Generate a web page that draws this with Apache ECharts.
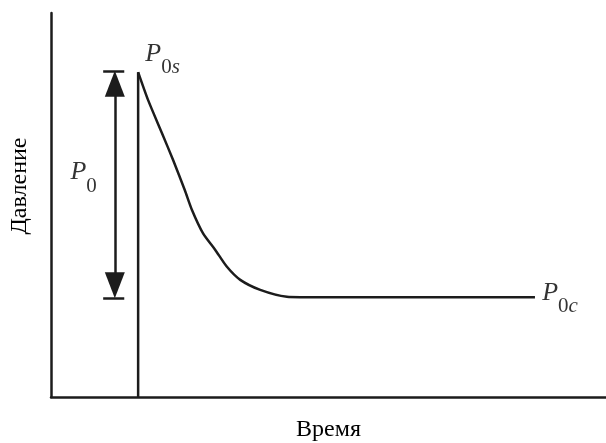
<!DOCTYPE html>
<html>
<head>
<meta charset="utf-8">
<script src="https://cdn.jsdelivr.net/npm/echarts@6/dist/echarts.min.js"></script>
<style>
  html, body { margin: 0; padding: 0; background: #fff; }
  #chart { width: 606px; height: 443px; }
</style>
</head>
<body>
<div id="chart"></div>
<script>
// время (усл. ед.) и давление (усл. ед.)
let times = [15.7, 17.5, 20.0, 22.0, 24.1, 25.4, 27.4, 29.6, 31.7, 34.1, 37.7, 42.5, 44.9, 87.2];
let pressures = [84.6, 77.3, 68.7, 61.7, 53.9, 48.7, 42.6, 38.3, 33.9, 30.5, 27.9, 26.1, 26.0, 26.0];
let startTime = 15.7;        // момент скачка давления
let peakPressure = 84.6;     // P0s
let steadyPressure = 26.0;   // P0c
let arrowTime = 11.5;        // положение стрелки P0
let arrowTop = 84.9;
let arrowBottom = 25.8;

let ink = '#000';
let lineInk = '#1c1c1c';
let serif = '"Liberation Serif", "DejaVu Serif", serif';

let curve = times.map(function (t, i) { return [t, pressures[i]]; });

function pLabel(digit, letter) {
    return {
        show: true,
        position: 'right',
        distance: 0,
        formatter: '{p|P}{d|' + digit + '}' + (letter ? '{l|' + letter + '}' : ''),
        rich: {
            p: { fontFamily: serif, fontStyle: 'italic', fontSize: 26, color: ink, verticalAlign: 'bottom', padding: [0, 0, 11, 0] },
            d: { fontFamily: serif, fontSize: 21, color: ink, verticalAlign: 'bottom' },
            l: { fontFamily: serif, fontStyle: 'italic', fontSize: 21, color: ink, verticalAlign: 'bottom' }
        }
    };
}

let myChart = echarts.init(document.getElementById('chart'));
let option = {
    animation: false,
    backgroundColor: '#fff',
    grid: { left: 51, right: 0, top: 13, bottom: 46, containLabel: false, outerBoundsMode: 'none' },
    xAxis: {
        type: 'value', min: 0, max: 100,
        name: 'Время', nameLocation: 'middle', nameGap: 21,
        nameTextStyle: { fontFamily: serif, fontSize: 24, color: ink },
        axisLine: { lineStyle: { color: lineInk, width: 2.5 } },
        axisTick: { show: false }, axisLabel: { show: false }, splitLine: { show: false }
    },
    yAxis: {
        type: 'value', min: 0, max: 100,
        name: 'Давление', nameLocation: 'middle', nameGap: 19, nameRotate: 90,
        nameTextStyle: { fontFamily: serif, fontSize: 24, color: ink, padding: [0, 0, 0, 38] },
        axisLine: { lineStyle: { color: lineInk, width: 2.5 } },
        axisTick: { show: false }, axisLabel: { show: false }, splitLine: { show: false }
    },
    series: [
        {
            type: 'line',
            data: [[startTime, 0], [startTime, peakPressure]],
            symbol: 'none',
            lineStyle: { color: lineInk, width: 2.5 }
        },
        {
            type: 'line',
            data: curve,
            smooth: 0.25,
            symbol: 'none',
            lineStyle: { color: lineInk, width: 2.5 },
            markLine: {
                silent: true,
                label: { show: false },
                lineStyle: { color: lineInk, width: 2.5, type: 'solid' },
                data: [
                    [{ coord: [arrowTime, arrowTop - 3.3], symbol: 'triangle', symbolSize: [20, 26] },
                     { coord: [arrowTime, arrowBottom + 3.3], symbol: 'triangle', symbolSize: [20, 26] }],
                    [{ coord: [arrowTime - 2.1, arrowTop], symbol: 'none' },
                     { coord: [arrowTime + 1.7, arrowTop], symbol: 'none' }],
                    [{ coord: [arrowTime - 2.1, arrowBottom], symbol: 'none' },
                     { coord: [arrowTime + 1.7, arrowBottom], symbol: 'none' }]
                ]
            }
        },
        {
            type: 'scatter',
            symbolSize: 0,
            silent: true,
            data: [
                { value: [17.0, 87.8], label: pLabel('0', 's') },
                { value: [3.5, 57.0], label: pLabel('0', '') },
                { value: [88.5, 25.6], label: pLabel('0', 'c') }
            ]
        }
    ]
};
myChart.setOption(option, true);
</script>
</body>
</html>
